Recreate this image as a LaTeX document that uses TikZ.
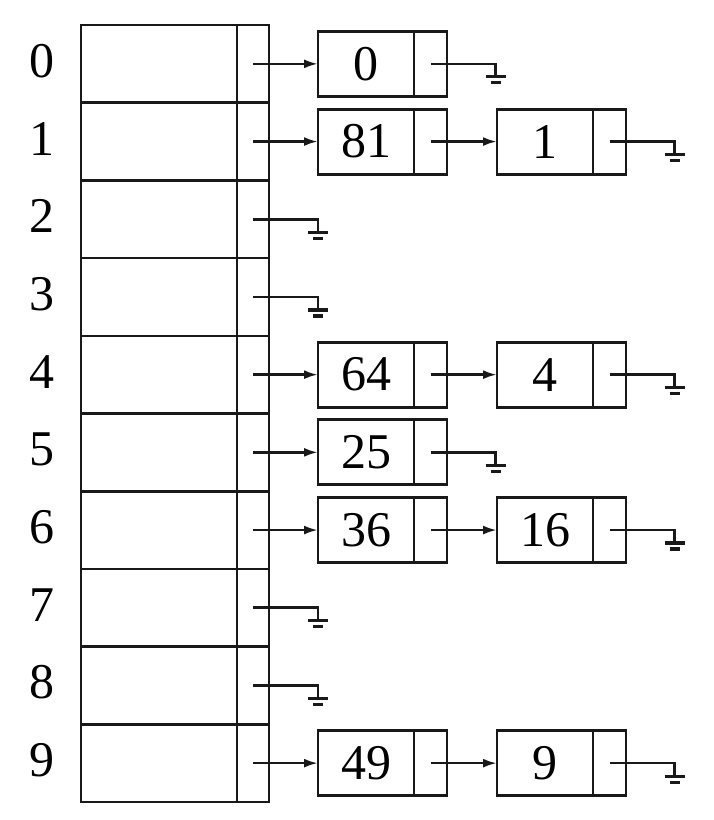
\documentclass[tikz,border=0pt]{standalone}
\usepackage{fontspec}
\setmainfont{Liberation Serif}
\usetikzlibrary{arrows.meta,positioning}
\tikzset{
  wire/.style={line width=2.6pt, draw=black!90},
  arr/.style={wire, -{Latex[length=14pt,width=9pt]}},
  tabcell/.style={draw=black!90, line width=2.6pt, minimum width=156pt, minimum height=77.7pt, inner sep=0pt, outer sep=0pt},
  tabptr/.style={draw=black!90, line width=2.6pt, minimum width=32pt, minimum height=77.7pt, inner sep=0pt, outer sep=0pt},
  datacell/.style={draw=black!90, line width=2.9pt, minimum width=96pt, minimum height=65pt, inner sep=0pt, outer sep=0pt, font=\fontsize{50}{60}\selectfont},
  ptrcell/.style={draw=black!90, line width=2.9pt, minimum width=33pt, minimum height=65pt, inner sep=0pt, outer sep=0pt},
  idx/.style={font=\fontsize{50}{60}\selectfont, inner sep=0pt},
  bar/.style={line width=3.2pt, draw=black!90}
}
\newcommand{\gnd}[1]{%
  \draw[wire] (#1.center) -- ++(65,0) -- ++(0,13) coordinate (#1-gb);
  \draw[bar] (#1-gb) ++(-10,0) -- ++(20,0);
  \draw[bar] (#1-gb) ++(-5,6) -- ++(10,0);
}
\begin{document}
\begin{tikzpicture}[x=1pt,y=-1pt]
\useasboundingbox (0,0) rectangle (714,820);
% hash table
\foreach \i in {0,...,9}{
  \pgfmathsetmacro{\cy}{25+77.7*(\i+0.5)}
  \node[tabcell] (r\i) at (159,\cy) {};
  \node[tabptr] (t\i) at (253,\cy) {};
  \node[idx] (n\i) at (42,\cy-3) {\i};
}
% list column 1
\node[datacell] (a0) at (366,{25+77.7*0.5}) {0};
\node[ptrcell, right=0pt of a0] (p0) {};
\node[datacell] (a1) at (366,{25+77.7*1.5}) {81};
\node[ptrcell, right=0pt of a1] (p1) {};
\node[datacell] (a4) at (366,{25+77.7*4.5}) {64};
\node[ptrcell, right=0pt of a4] (p4) {};
\node[datacell] (a5) at (366,{25+77.7*5.5}) {25};
\node[ptrcell, right=0pt of a5] (p5) {};
\node[datacell] (a6) at (366,{25+77.7*6.5}) {36};
\node[ptrcell, right=0pt of a6] (p6) {};
\node[datacell] (a9) at (366,{25+77.7*9.5}) {49};
\node[ptrcell, right=0pt of a9] (p9) {};
% list column 2
\node[datacell] (b1) at (545,{25+77.7*1.5}) {1};
\node[ptrcell, right=0pt of b1] (q1) {};
\node[datacell] (b4) at (545,{25+77.7*4.5}) {4};
\node[ptrcell, right=0pt of b4] (q4) {};
\node[datacell] (b6) at (545,{25+77.7*6.5}) {16};
\node[ptrcell, right=0pt of b6] (q6) {};
\node[datacell] (b9) at (545,{25+77.7*9.5}) {9};
\node[ptrcell, right=0pt of b9] (q9) {};
% arrows from table
\foreach \i in {0,1,4,5,6,9}{ \draw[arr] (t\i.center) -- (a\i.west); }
\foreach \i in {1,4,6,9}{ \draw[arr] (p\i.center) -- (b\i.west); }
% grounds
\gnd{t2}\gnd{t3}\gnd{t7}\gnd{t8}
\gnd{p0}\gnd{p5}
\gnd{q1}\gnd{q4}\gnd{q6}\gnd{q9}
\end{tikzpicture}
\end{document}
